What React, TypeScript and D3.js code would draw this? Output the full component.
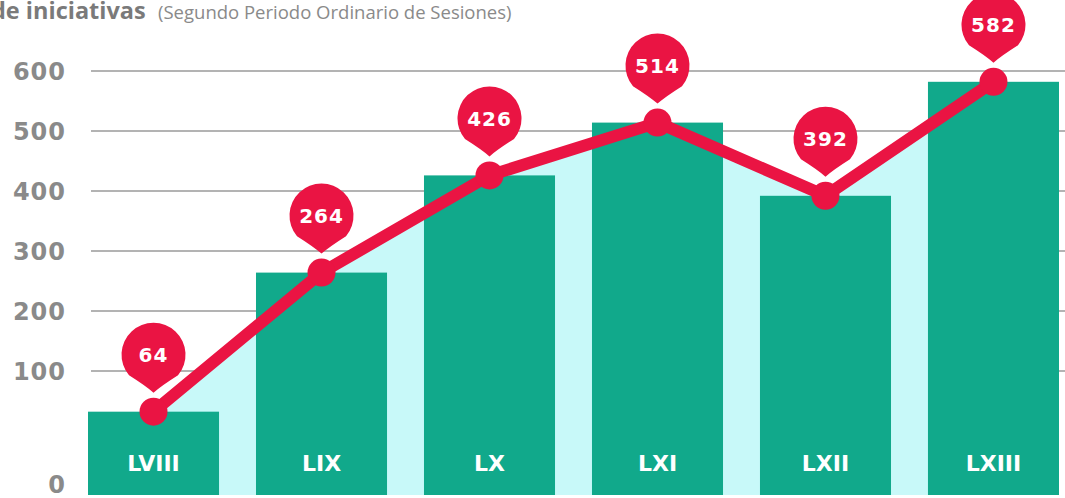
import { useRef, useEffect } from 'react'
import { select, scaleLinear, scaleBand, line, area, curveLinear } from 'd3'

const legislaturas = ['LVIII', 'LIX', 'LX', 'LXI', 'LXII', 'LXIII']
const iniciativas = [64, 264, 426, 514, 392, 582]
const yTicks = [0, 100, 200, 300, 400, 500, 600]
const gridTicks = [100, 200, 300, 400, 500, 600]

const title = 'de iniciativas'
const subtitle = '(Segundo Periodo Ordinario de Sesiones)'

const App = () => {
  const svgRef = useRef(null)

  function renderChart() {
    const svg = select(svgRef.current)
    svg.selectAll('*').remove()

    const width = 1065
    const height = 498
    const bottom = 495

    const teal = '#11a98b'
    const red = '#ea1443'
    const cyan = '#c8f9f9'
    const gray = '#8a8a8a'
    const font = 'DejaVu Sans, sans-serif'

    svg.append('rect').attr('width', width).attr('height', height).attr('fill', 'white')

    // title, the first letter sits half outside the left edge like the source image
    svg
      .append('text')
      .text(title)
      .attr('x', -9)
      .attr('y', 19)
      .attr('fill', '#7a7a7a')
      .attr('font-family', 'Open Sans, sans-serif')
      .attr('font-weight', 'bold')
      .attr('font-size', '23.5px')

    svg
      .append('text')
      .text(subtitle)
      .attr('x', 158)
      .attr('y', 19)
      .attr('fill', gray)
      .attr('font-family', 'Open Sans, sans-serif')
      .attr('font-size', '18.5px')

    const xScale = scaleBand()
      .domain(legislaturas)
      .range([88, 1059])
      .paddingInner(0.22)
      .paddingOuter(0)

    // the infographic is not linear near the bottom, so the scale bends at 100
    const yScale = scaleLinear().domain([0, 100, 600]).range([484, 371, 71])

    const cx = (d, i) => xScale(legislaturas[i]) + xScale.bandwidth() / 2

    // gridlines
    svg
      .append('g')
      .selectAll('line')
      .data(gridTicks)
      .join('line')
      .attr('x1', 91)
      .attr('x2', width)
      .attr('y1', (d) => yScale(d))
      .attr('y2', (d) => yScale(d))
      .attr('stroke', '#9a9a9a')
      .attr('stroke-width', 1.5)

    // y labels
    svg
      .append('g')
      .selectAll('text')
      .data(yTicks)
      .join('text')
      .text((d) => d)
      .attr('x', 66)
      .attr('y', (d) => yScale(d))
      .attr('dy', '0.36em')
      .attr('text-anchor', 'end')
      .attr('fill', gray)
      .attr('font-family', font)
      .attr('font-weight', 'bold')
      .attr('font-size', '24px')
      .attr('letter-spacing', '1px')

    // light area under the line
    const areaGenerator = area()
      .x(cx)
      .y0(bottom)
      .y1((d) => yScale(d))
      .curve(curveLinear)

    svg.append('path').attr('d', areaGenerator(iniciativas)).attr('fill', cyan)

    // bars
    svg
      .append('g')
      .selectAll('rect')
      .data(iniciativas)
      .join('rect')
      .attr('x', (d, i) => xScale(legislaturas[i]))
      .attr('y', (d) => yScale(d))
      .attr('width', xScale.bandwidth())
      .attr('height', (d) => bottom - yScale(d))
      .attr('fill', teal)

    svg
      .append('g')
      .selectAll('text')
      .data(legislaturas)
      .join('text')
      .text((d) => d)
      .attr('x', (d) => xScale(d) + xScale.bandwidth() / 2)
      .attr('y', 471)
      .attr('text-anchor', 'middle')
      .attr('fill', 'white')
      .attr('font-family', font)
      .attr('font-weight', 'bold')
      .attr('font-size', '22px')

    // red line + markers
    const lineGenerator = line()
      .x(cx)
      .y((d) => yScale(d))

    svg
      .append('path')
      .attr('d', lineGenerator(iniciativas))
      .attr('fill', 'none')
      .attr('stroke', red)
      .attr('stroke-width', 12)
      .attr('stroke-linejoin', 'round')

    svg
      .append('g')
      .selectAll('circle')
      .data(iniciativas)
      .join('circle')
      .attr('cx', cx)
      .attr('cy', (d) => yScale(d))
      .attr('r', 14)
      .attr('fill', red)

    // pin bubbles
    const r = 32
    const a = (50 * Math.PI) / 180
    const sx = r * Math.sin(a)
    const sy = r * Math.cos(a)
    const pinPath = (x, y) =>
      `M${x},${y + 38} Q${x - 8},${y + 31} ${x - sx},${y + sy} ` +
      `A${r},${r} 0 1 1 ${x + sx},${y + sy} Q${x + 8},${y + 31} ${x},${y + 38}Z`

    const pins = svg
      .append('g')
      .selectAll('g')
      .data(iniciativas)
      .join('g')

    pins
      .append('path')
      .attr('d', (d, i) => pinPath(cx(d, i), yScale(d) - 57))
      .attr('fill', red)

    pins
      .append('text')
      .text((d) => d)
      .attr('x', (d, i) => cx(d, i))
      .attr('y', (d) => yScale(d) - 57)
      .attr('dy', '0.36em')
      .attr('text-anchor', 'middle')
      .attr('fill', 'white')
      .attr('font-family', font)
      .attr('font-weight', 'bold')
      .attr('font-size', '20px')
      .attr('letter-spacing', '1px')
  }

  useEffect(() => {
    renderChart()
  }, [])

  return (
    <div>
      <svg
        width="1065"
        height="498"
        ref={svgRef}
        style={{ position: 'absolute', top: 0, left: 0, display: 'block' }}
      ></svg>
    </div>
  )
}

export default App
